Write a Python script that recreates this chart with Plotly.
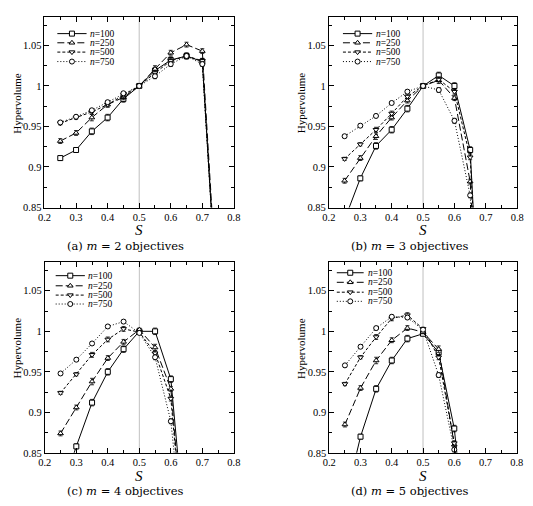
import plotly.graph_objects as go

W, H = 533, 506

# ---------------- data ----------------
S_a = [0.25, 0.30, 0.35, 0.40, 0.45, 0.50, 0.55, 0.60, 0.65, 0.70, 0.75]
a_n100 = [0.911, 0.921, 0.944, 0.961, 0.984, 1.000, 1.019, 1.032, 1.037, 1.030, 0.71]
a_n250 = [0.932, 0.942, 0.961, 0.977, 0.986, 1.000, 1.021, 1.041, 1.051, 1.043, 0.72]
a_n500 = [0.954, 0.961, 0.968, 0.977, 0.989, 1.000, 1.016, 1.031, 1.037, 1.031, 0.71]
a_n750 = [0.955, 0.962, 0.970, 0.980, 0.991, 1.000, 1.012, 1.027, 1.037, 1.027, 0.71]

S_b = [0.25, 0.30, 0.35, 0.40, 0.45, 0.50, 0.55, 0.60, 0.65, 0.70]
b_n100 = [0.835, 0.886, 0.926, 0.946, 0.972, 1.000, 1.013, 1.000, 0.921, 0.55]
b_n250 = [0.883, 0.911, 0.938, 0.961, 0.982, 1.000, 1.007, 0.985, 0.882, 0.55]
b_n500 = [0.910, 0.928, 0.946, 0.966, 0.987, 1.000, 1.008, 0.993, 0.912, 0.55]
b_n750 = [0.938, 0.951, 0.963, 0.979, 0.993, 1.000, 0.995, 0.957, 0.865, 0.55]

S_c = [0.25, 0.30, 0.35, 0.40, 0.45, 0.50, 0.55, 0.60, 0.65]
c_n100 = [0.800, 0.858, 0.912, 0.950, 0.978, 1.000, 1.000, 0.941, 0.73]
c_n250 = [0.874, 0.906, 0.938, 0.967, 0.987, 1.002, 0.980, 0.929, 0.70]
c_n500 = [0.924, 0.947, 0.971, 0.990, 1.003, 0.999, 0.973, 0.917, 0.70]
c_n750 = [0.948, 0.965, 0.985, 1.006, 1.012, 0.998, 0.968, 0.889, 0.70]

S_d = [0.25, 0.30, 0.35, 0.40, 0.45, 0.50, 0.55, 0.60, 0.65]
d_n100 = [0.790, 0.870, 0.929, 0.964, 0.991, 0.997, 0.974, 0.880, 0.70]
d_n250 = [0.885, 0.930, 0.964, 0.989, 1.004, 0.999, 0.978, 0.860, 0.70]
d_n500 = [0.935, 0.968, 0.993, 1.016, 1.020, 1.003, 0.968, 0.862, 0.70]
d_n750 = [0.958, 0.981, 1.004, 1.018, 1.017, 1.002, 0.946, 0.854, 0.70]

# error bar half-widths (per series)
err_n100 = [0.003, 0.003, 0.004, 0.004, 0.004, 0.002, 0.004, 0.004, 0.004, 0.004, 0.004]
err_n250 = [0.003, 0.003, 0.004, 0.003, 0.003, 0.002, 0.004, 0.003, 0.003, 0.003, 0.003]
err_n500 = [0.002, 0.002, 0.003, 0.003, 0.003, 0.002, 0.003, 0.003, 0.003, 0.003, 0.003]
err_n750 = [0.002, 0.002, 0.002, 0.002, 0.002, 0.002, 0.003, 0.003, 0.003, 0.003, 0.003]

series_names = ["<i>n</i>=100", "<i>n</i>=250", "<i>n</i>=500", "<i>n</i>=750"]
x_ticks = [0.2, 0.3, 0.4, 0.5, 0.6, 0.7, 0.8]
y_ticks = [0.85, 0.9, 0.95, 1.0, 1.05]
y_tick_text = ["0.85", "0.9", "0.95", "1", "1.05"]
captions = ["(a) <i>m</i> = 2 objectives", "(b) <i>m</i> = 3 objectives",
            "(c) <i>m</i> = 4 objectives", "(d) <i>m</i> = 5 objectives"]

# ---------------- styles ----------------
SERIF = "Liberation Serif, Times New Roman, Times, serif"
CAPF = "DejaVu Serif, serif"
dashes = ["solid", "7px,3px", "3px,2px", "1px,2px"]
symbols = ["square", "triangle-up", "triangle-down", "circle"]
errs = [err_n100, err_n250, err_n500, err_n750]

panels = [
    (S_a, [a_n100, a_n250, a_n500, a_n750]),
    (S_b, [b_n100, b_n250, b_n500, b_n750]),
    (S_c, [c_n100, c_n250, c_n500, c_n750]),
    (S_d, [d_n100, d_n250, d_n500, d_n750]),
]

# axis pixel boxes (left, right, top, bottom)
boxes = [(38.5, 233.0, 17.3, 210.0), (330.6, 524.0, 17.3, 210.0),
         (38.8, 233.0, 265.6, 458.3), (331.0, 523.5, 265.6, 458.3)]

# legend layout per panel: (x0, x1, xtext, row y values)
legend_pos = [
    (0.2407, 0.3333, 0.338, [1.0646, 1.0533, 1.0418, 1.0301]),
    (0.2447, 0.3379, 0.344, [1.0646, 1.0533, 1.0418, 1.0301]),
    (0.2346, 0.3272, 0.332, [1.0687, 1.0562, 1.0447, 1.0337]),
    (0.2240, 0.3100, 0.317, [1.0723, 1.0605, 1.0483, 1.0370]),
]

fig = go.Figure()
annotations = []
shapes = []

for i, (S, ys) in enumerate(panels):
    k = "" if i == 0 else str(i + 1)
    xa, ya = "x" + k, "y" + k
    for j in range(4):
        fig.add_trace(go.Scatter(
            x=S, y=ys[j], mode="lines+markers", xaxis=xa, yaxis=ya,
            line=dict(color="black", width=1, dash=dashes[j]),
            marker=dict(symbol=symbols[j], size=5, color="white",
                        line=dict(color="black", width=1)),
            error_y=dict(type="data", array=errs[j][:len(S)], color="black",
                         thickness=0.8, width=2),
            showlegend=False, hoverinfo="skip"))
    # manual compact legend
    x0, x1, xt, rows = legend_pos[i]
    for j in range(4):
        fig.add_trace(go.Scatter(
            x=[x0, x1], y=[rows[j], rows[j]], mode="lines", xaxis=xa, yaxis=ya,
            line=dict(color="black", width=1, dash=dashes[j]),
            showlegend=False, hoverinfo="skip"))
        fig.add_trace(go.Scatter(
            x=[(x0 + x1) / 2], y=[rows[j]], mode="markers", xaxis=xa, yaxis=ya,
            marker=dict(symbol=symbols[j], size=5, color="white",
                        line=dict(color="black", width=1)),
            showlegend=False, hoverinfo="skip"))
        annotations.append(dict(
            x=xt, y=rows[j], xref=xa, yref=ya, text=series_names[j],
            showarrow=False, xanchor="left", yanchor="middle",
            font=dict(family=SERIF, size=9.5, color="black")))

    # vertical reference line at S = 0.5
    shapes.append(dict(type="line", xref=xa, yref=ya + " domain",
                       x0=0.5, x1=0.5, y0=0, y1=1,
                       line=dict(color="#b0b0b0", width=0.8), layer="below"))

    l, r, t, b = boxes[i]
    axx = dict(domain=[l / W, r / W], range=[0.2, 0.8], anchor=ya,
               tickvals=x_ticks, ticktext=[f"{v:.1f}" for v in x_ticks],
               ticks="inside", ticklen=5, tickwidth=1, tickcolor="black",
               minor=dict(tick0=0.2, dtick=0.05, ticks="inside", ticklen=3,
                          tickcolor="black", tickwidth=1),
               showline=True, linecolor="black", linewidth=1, mirror="ticks",
               showgrid=False, zeroline=False,
               tickfont=dict(family=SERIF, size=10.5, color="black"))
    axy = dict(domain=[1 - b / H, 1 - t / H], range=[0.85, 1.085], anchor=xa,
               tickvals=y_ticks, ticktext=y_tick_text,
               ticks="inside", ticklen=5, tickwidth=1, tickcolor="black",
               minor=dict(tick0=0.85, dtick=0.025, ticks="inside", ticklen=3,
                          tickcolor="black", tickwidth=1),
               showline=True, linecolor="black", linewidth=1, mirror="ticks",
               showgrid=False, zeroline=False,
               tickfont=dict(family=SERIF, size=10.5, color="black"))
    fig.update_layout(**{"xaxis" + k: axx, "yaxis" + k: axy})

    # axis titles and caption
    cx = (l + r) / 2
    annotations.append(dict(x=cx / W, y=1 - (b + 23) / H, xref="paper", yref="paper",
                            text="<i>S</i>", showarrow=False,
                            xanchor="center", yanchor="middle",
                            font=dict(family=SERIF, size=15, color="black")))
    annotations.append(dict(x=(l - 28.5) / W, y=1 - (t + 87) / H, xref="paper", yref="paper",
                            text="Hypervolume", textangle=-90, showarrow=False,
                            xanchor="center", yanchor="middle",
                            font=dict(family=SERIF, size=11, color="black")))
    annotations.append(dict(x=(l + 83) / W, y=1 - (b + 39) / H, xref="paper", yref="paper",
                            text=captions[i], showarrow=False,
                            xanchor="center", yanchor="middle",
                            font=dict(family=CAPF, size=11.5, color="black")))

fig.update_layout(width=W, height=H, margin=dict(l=0, r=0, t=0, b=0),
                  paper_bgcolor="white", plot_bgcolor="white",
                  annotations=annotations, shapes=shapes, showlegend=False)

fig.write_html("out.html")
